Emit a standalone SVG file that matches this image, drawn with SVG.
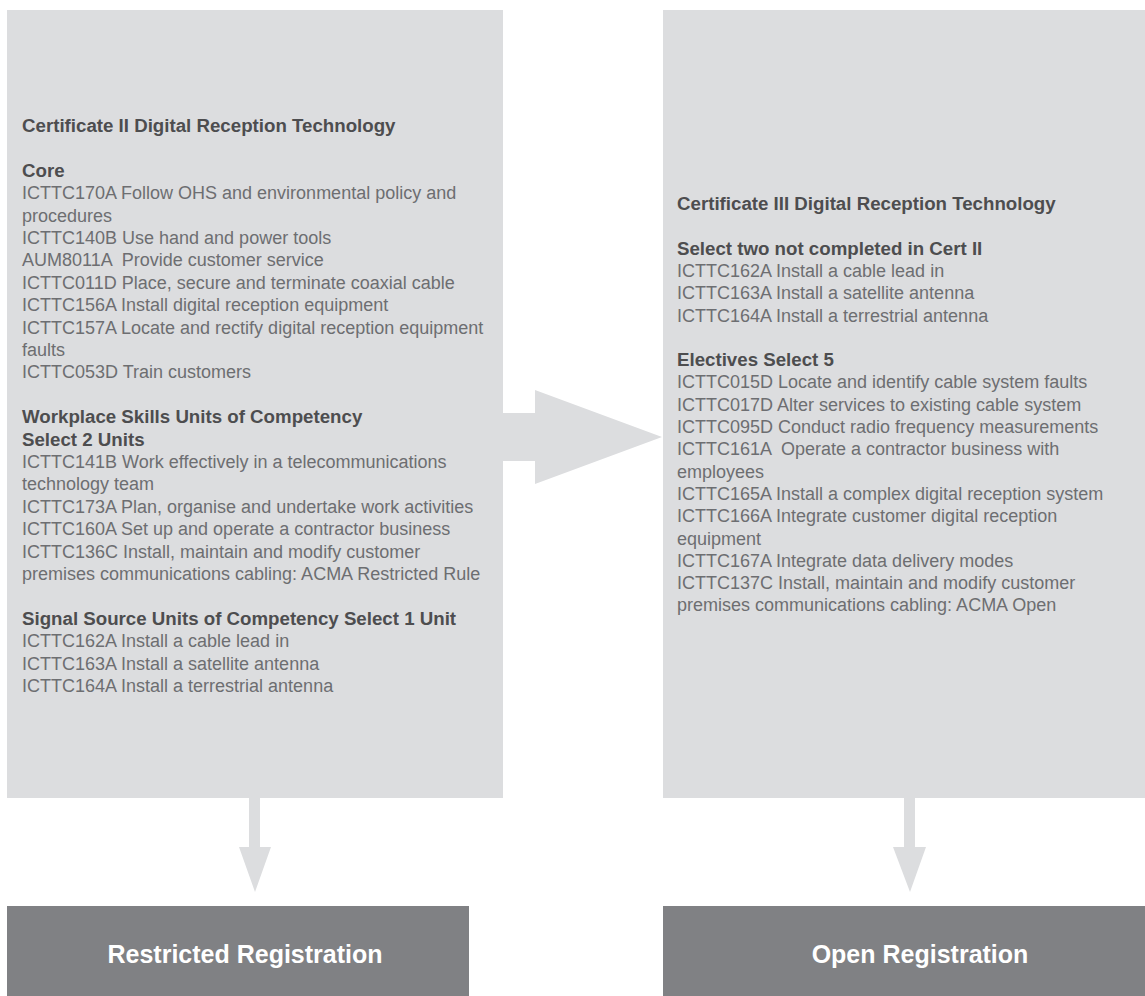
<svg xmlns="http://www.w3.org/2000/svg" width="1145" height="996" viewBox="0 0 1145 996">
  <style>
    .panel { fill: #dcdddf; }
    .result { fill: #808184; }
    .flow { fill: #dcdddf; }
    text { font-family: "Liberation Sans", Arial, Helvetica, sans-serif; }
    .body { font-size: 18px; fill: #6d6e71; }
    .head { font-size: 18.7px; font-weight: bold; fill: #4d4d4f; }
    .label { font-size: 25px; font-weight: bold; fill: #ffffff; text-anchor: middle; }
  </style>

  <!-- Certificate II panel -->
  <g id="cert2">
    <rect class="panel" x="7" y="10" width="496" height="788"/>
    <text class="head" x="22" y="132">Certificate II Digital Reception Technology</text>
    <text class="head" x="22" y="176.8">Core</text>
    <text class="body" xml:space="preserve">
      <tspan x="22" y="199.2">ICTTC170A Follow OHS and environmental policy and</tspan>
      <tspan x="22" y="221.6">procedures</tspan>
      <tspan x="22" y="244">ICTTC140B Use hand and power tools</tspan>
      <tspan x="22" y="266.4">AUM8011A  Provide customer service</tspan>
      <tspan x="22" y="288.8">ICTTC011D Place, secure and terminate coaxial cable</tspan>
      <tspan x="22" y="311.2">ICTTC156A Install digital reception equipment</tspan>
      <tspan x="22" y="333.6">ICTTC157A Locate and rectify digital reception equipment</tspan>
      <tspan x="22" y="356">faults</tspan>
      <tspan x="22" y="378.4">ICTTC053D Train customers</tspan>
    </text>
    <text class="head">
      <tspan x="22" y="423.2">Workplace Skills Units of Competency</tspan>
      <tspan x="22" y="445.6">Select 2 Units</tspan>
    </text>
    <text class="body">
      <tspan x="22" y="468">ICTTC141B Work effectively in a telecommunications</tspan>
      <tspan x="22" y="490.4">technology team</tspan>
      <tspan x="22" y="512.8">ICTTC173A Plan, organise and undertake work activities</tspan>
      <tspan x="22" y="535.2">ICTTC160A Set up and operate a contractor business</tspan>
      <tspan x="22" y="557.6">ICTTC136C Install, maintain and modify customer</tspan>
      <tspan x="22" y="580">premises communications cabling: ACMA Restricted Rule</tspan>
    </text>
    <text class="head" x="22" y="624.8">Signal Source Units of Competency Select 1 Unit</text>
    <text class="body">
      <tspan x="22" y="647.2">ICTTC162A Install a cable lead in</tspan>
      <tspan x="22" y="669.6">ICTTC163A Install a satellite antenna</tspan>
      <tspan x="22" y="692">ICTTC164A Install a terrestrial antenna</tspan>
    </text>
  </g>

  <!-- Certificate III panel -->
  <g id="cert3">
    <rect class="panel" x="663" y="10" width="482" height="788"/>
    <text class="head" x="677" y="210">Certificate III Digital Reception Technology</text>
    <text class="head" x="677" y="254.6">Select two not completed in Cert II</text>
    <text class="body">
      <tspan x="677" y="276.9">ICTTC162A Install a cable lead in</tspan>
      <tspan x="677" y="299.2">ICTTC163A Install a satellite antenna</tspan>
      <tspan x="677" y="321.5">ICTTC164A Install a terrestrial antenna</tspan>
    </text>
    <text class="head" x="677" y="366.1">Electives Select 5</text>
    <text class="body" xml:space="preserve">
      <tspan x="677" y="388.4">ICTTC015D Locate and identify cable system faults</tspan>
      <tspan x="677" y="410.7">ICTTC017D Alter services to existing cable system</tspan>
      <tspan x="677" y="433">ICTTC095D Conduct radio frequency measurements</tspan>
      <tspan x="677" y="455.3">ICTTC161A  Operate a contractor business with</tspan>
      <tspan x="677" y="477.6">employees</tspan>
      <tspan x="677" y="499.9">ICTTC165A Install a complex digital reception system</tspan>
      <tspan x="677" y="522.2">ICTTC166A Integrate customer digital reception</tspan>
      <tspan x="677" y="544.5">equipment</tspan>
      <tspan x="677" y="566.8">ICTTC167A Integrate data delivery modes</tspan>
      <tspan x="677" y="589.1">ICTTC137C Install, maintain and modify customer</tspan>
      <tspan x="677" y="611.4">premises communications cabling: ACMA Open</tspan>
    </text>
  </g>

  <!-- Outcome boxes -->
  <g id="restricted">
    <rect class="result" x="7" y="906" width="462" height="90"/>
    <text class="label" x="245" y="963">Restricted Registration</text>
  </g>
  <g id="open">
    <rect class="result" x="663" y="906" width="482" height="90"/>
    <text class="label" x="920" y="963">Open Registration</text>
  </g>

  <!-- Block arrows -->
  <g id="connectors">
    <polygon class="flow" points="503,413 535,413 535,390 662,437 535,484 535,461 503,461"/>
    <polygon class="flow" points="249,798 260,798 260,847 271,847 255,892 239,847 249,847"/>
    <polygon class="flow" points="904,798 915,798 915,847 926,847 910,892 893,847 904,847"/>
  </g>
</svg>
